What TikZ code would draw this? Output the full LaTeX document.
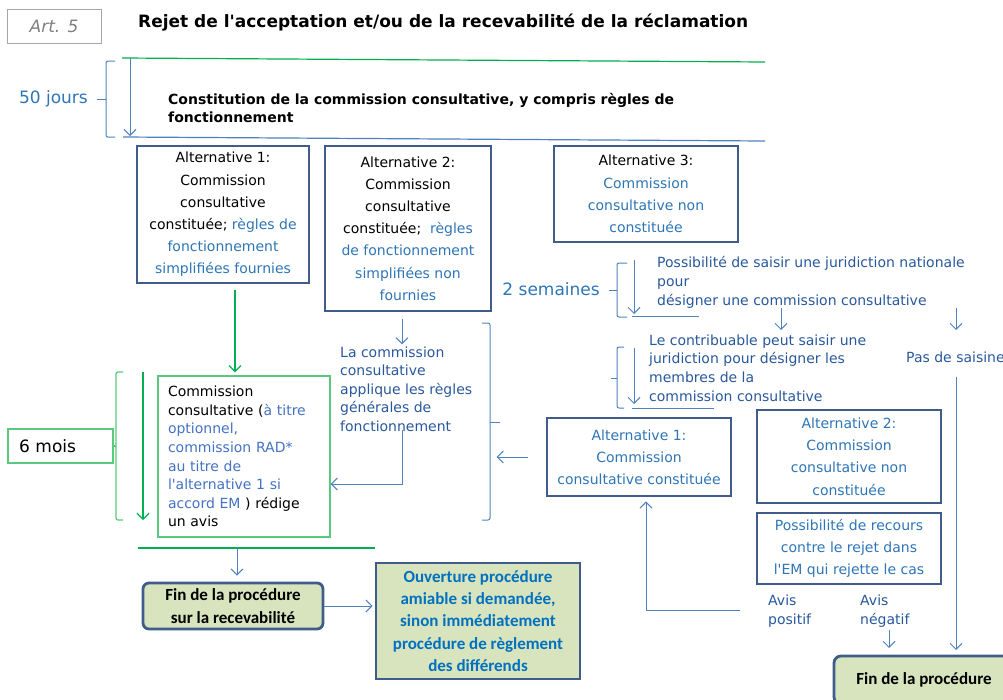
\documentclass[tikz,border=0pt]{standalone}
\usepackage{fontspec}
\setmainfont{DejaVu Sans}
\newfontfamily\calib{Carlito}
\usetikzlibrary{arrows.meta,calc}
\definecolor{cadre}{RGB}{63,92,138}
\definecolor{txtbleu}{RGB}{46,117,182}
\definecolor{etape}{RGB}{40,88,155}
\definecolor{trait}{RGB}{79,129,189}
\definecolor{vert}{RGB}{0,176,80}
\definecolor{vertclair}{RGB}{90,200,125}
\definecolor{optbleu}{RGB}{68,114,196}
\definecolor{fond}{RGB}{215,228,189}
\definecolor{ouvbleu}{RGB}{0,112,192}

\begin{document}
\begin{tikzpicture}[x=1pt,y=-1pt,
  alt/.style={draw=cadre,line width=2.8pt,align=center,inner sep=0pt,font=\fontsize{14}{22.2}\selectfont},
  etapetxt/.style={anchor=west,align=left,inner sep=0pt,text=etape,font=\fontsize{14}{18.6}\selectfont},
  duree/.style={anchor=east,inner sep=0pt,text=txtbleu,font=\fontsize{17}{20}\selectfont},
  fin/.style={draw=cadre,line width=2.8pt,fill=fond,align=center,inner sep=0pt,font=\calib\bfseries\fontsize{17}{22.2}\selectfont},
  fl/.style={trait,line width=1pt,-{Straight Barb[length=6pt,width=12pt]}},
  flv/.style={vert,line width=1.2pt,-{Straight Barb[length=6pt,width=12pt]}},
  accol/.style={trait,line width=1pt,rounded corners=2pt},
  accolv/.style={vertclair,line width=1.2pt,rounded corners=2pt}]
\useasboundingbox (0,0) rectangle (1003,699);
\node[draw=gray!70,line width=1pt,minimum width=94pt,minimum height=34pt,inner sep=0pt,text=gray,font=\itshape\fontsize{17}{20}\selectfont] (art) at (54,26) {Art. 5};
\node[anchor=west,inner sep=0pt,font=\bfseries\fontsize{17}{20}\selectfont] (titre) at (138,23) {Rejet de l\textquotesingle acceptation et/ou de la recevabilité de la réclamation};
\draw[vert,line width=1.2pt] (122,58) -- (765,62);
\draw[trait,line width=1.2pt] (123,137) -- (765,141);
\node[anchor=west,align=left,inner sep=0pt,font=\bfseries\fontsize{14}{18}\selectfont] (constit) at (168,108) {Constitution de la commission consultative, y compris règles de\\fonctionnement};
\node[duree] (jours) at (88,99) {50 jours};
\draw[accol] (115,61) -- (106,61) -- (106,137) -- (115,137);
\draw[accol] (106,99) -- (97,99);
\draw[fl] (130,58) -- (130,136);

\node[alt,minimum width=172pt,minimum height=137pt] (alt1) at (223,214.5) {Alternative 1:\\Commission\\consultative\\constituée; \textcolor{txtbleu}{règles de}\\\textcolor{txtbleu}{fonctionnement}\\\textcolor{txtbleu}{simplifiées fournies}};
\node[alt,minimum width=166pt,minimum height=165pt] (alt2) at (408,228.5) {Alternative 2:\\Commission\\consultative\\constituée;\ \ \textcolor{txtbleu}{règles}\\\textcolor{txtbleu}{de fonctionnement}\\\textcolor{txtbleu}{simplifiées non}\\\textcolor{txtbleu}{fournies}};
\node[alt,minimum width=184pt,minimum height=96pt] (alt3) at (646,194) {Alternative 3:\\\textcolor{txtbleu}{Commission}\\\textcolor{txtbleu}{consultative non}\\\textcolor{txtbleu}{constituée}};

\node[duree] (sem) at (600,289) {2 semaines};
\draw[accol] (627,263) -- (617,263) -- (617,317) -- (627,317);
\draw[accol] (617,290) -- (609,290);
\draw[fl] (634,260) -- (634,314);
\draw[trait,line width=1pt] (632,316) -- (699,316);
\node[etapetxt,font=\fontsize{14}{19}\selectfont] (poss) at (657,282) {Possibilité de saisir une juridiction nationale\\pour\\désigner une commission consultative};
\draw[fl] ([xshift=124pt,yshift=-26pt]poss.west) -- ++(0,22);
\draw[fl] ([xshift=299pt,yshift=-26pt]poss.west) -- ++(0,22);
\node[etapetxt] (contrib) at (649,368) {Le contribuable peut saisir une\\juridiction pour désigner les\\membres de la\\commission consultative};
\draw[accol] (624,347) -- (617,347) -- (617,408) -- (624,408);
\draw[accol] (617,378) -- (611,378);
\draw[fl] (634,348) -- (634,404);
\draw[trait,line width=1pt] (632,408) -- (714,408);
\node[etapetxt] (pas) at (906,357) {Pas de saisine};

\node[etapetxt] (lacom) at (340,389) {La commission\\consultative\\applique les règles\\générales de\\fonctionnement};
\draw[fl] ([xshift=-6pt,yshift=-7pt]alt2.south) -- ++(0,25);
\draw[accol] (482,323) -- (490,323) -- (490,520) -- (482,520);
\draw[accol] (490,422) -- (500,422);

\node[alt,text=txtbleu,minimum width=184pt,minimum height=78pt] (alt1R) at (639,457) {Alternative 1:\\Commission\\consultative constituée};
\node[alt,text=txtbleu,minimum width=184pt,minimum height=93pt] (alt2R) at (849,456.5) {Alternative 2:\\Commission\\consultative non\\constituée};
\node[alt,text=txtbleu,minimum width=184pt,minimum height=71pt] (recours) at (849,548.5) {Possibilité de recours\\contre le rejet dans\\l\textquotesingle EM qui rejette le cas};
\draw[fl] ([xshift=-18pt]alt1R.west) -- ++(-31,0);
\node[etapetxt] (avispos) at (768,611) {Avis\\positif};
\node[etapetxt] (avisneg) at (860,611) {Avis\\négatif};
\draw[fl] ([xshift=-28pt,yshift=1pt]avispos.west) -| ([xshift=7pt,yshift=-4pt]alt1R.south);
\node[fin,rounded corners=7pt,minimum width=180pt,minimum height=48pt] (finR) at (924,680) {Fin de la procédure};
\draw[fl] ([xshift=29pt,yshift=-19pt]avisneg.west) -- ++(0,18);
\draw[fl] ([xshift=50pt,yshift=-20pt]pas.west) -- ++(0,273);

\node[draw=vertclair,line width=1.2pt,text width=152pt,inner xsep=10pt,inner ysep=0pt,minimum height=161pt,align=left,font=\fontsize{14}{18.6}\selectfont] (cg) at (244,456.5) {Commission\\consultative (\textcolor{optbleu}{à titre}\\\textcolor{optbleu}{optionnel,}\\\textcolor{optbleu}{commission RAD*}\\\textcolor{optbleu}{au titre de}\\\textcolor{optbleu}{l\textquotesingle alternative 1 si}\\\textcolor{optbleu}{accord EM} ) rédige\\un avis};
\draw[flv] ([xshift=12pt,yshift=-6pt]alt1.south) -- ([xshift=-9pt,yshift=3pt]cg.north);
\draw[fl] ([xshift=62pt,yshift=-41pt]lacom.west) |- ([yshift=-27.5pt]cg.east);
\node[draw=vertclair,line width=1.2pt,minimum width=105pt,minimum height=34pt,text width=83pt,inner xsep=11pt,align=left,font=\fontsize{17}{20}\selectfont] (mois) at (60.5,446) {6 mois};
\draw[accolv] (123,372) -- (116,372) -- (116,520) -- (123,520);
\draw[accolv] (116,446) -- (mois.east);
\draw[flv] (143,372) -- (143,520);
\draw[vert,line width=1.2pt] (138,548) -- (375,548);

\node[fin,rounded corners=6pt,minimum width=180pt,minimum height=46pt] (finL) at (233,606) {Fin de la procédure\\sur la recevabilité};
\draw[fl] ([xshift=4pt,yshift=35pt]finL.north) -- ([xshift=4pt,yshift=6pt]finL.north);
\node[fin,text=ouvbleu,minimum width=204pt,minimum height=116pt] (ouv) at (478,621) {Ouverture procédure\\amiable si demandée,\\sinon immédiatement\\procédure de règlement\\des différends};
\draw[fl,shorten >=2pt] (finL.east) -- (finL.east -| ouv.west);
\end{tikzpicture}
\end{document}
